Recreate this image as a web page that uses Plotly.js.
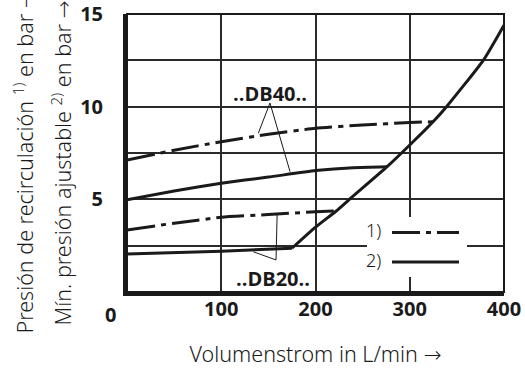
<!DOCTYPE html>
<html>
<head>
<meta charset="utf-8">
<script src="https://cdn.plot.ly/plotly-3.0.1.min.js"></script>
<style>html,body{margin:0;padding:0;background:#fff;}#chart{width:525px;height:368px;}</style>
</head>
<body>
<div id="chart"></div>
<script>
// ---- data ----
const db40DashX = [0, 50, 100, 150, 200, 250, 300, 325];
const db40DashY = [7.12, 7.65, 8.11, 8.51, 8.83, 9.01, 9.14, 9.19];
const db40SolidX = [0, 50, 100, 150, 200, 240, 276];
const db40SolidY = [4.97, 5.45, 5.87, 6.2, 6.55, 6.71, 6.76];
const db20DashX = [0, 50, 100, 150, 200, 222];
const db20DashY = [3.35, 3.71, 4.03, 4.18, 4.33, 4.37];
const db20SolidX = [0, 100, 175];
const db20SolidY = [2.05, 2.2, 2.36];
const limitX = [175, 200, 222, 236, 276, 300, 325, 339, 378, 400];
const limitY = [2.36, 3.5, 4.37, 5.0, 6.76, 7.93, 9.2, 10.0, 12.5, 14.4];

const xTickVals = [100, 200, 300, 400];
const xTickText = ['100', '200', '300', '400'];
const yTickVals = [5, 10, 15];
const yTickText = ['5', '10', '15'];
const yGridStep = 2.5;

const labelDB40 = '..DB40..';
const labelDB20 = '..DB20..';
const ARROW = '<span style="font-family:\'DejaVu Sans\'">→</span>';
const yTitle1 = 'Presión de recirculación <sup>1)</sup> en bar ' + ARROW;
const yTitle2 = 'Mín. presión ajustable <sup>2)</sup> en bar ' + ARROW;
const xTitle = 'Volumenstrom in L/min ' + ARROW;
const originLabel = '0';
const legendLabels = ['1)', '2)'];

// ---- styling ----
const INK = '#1a1a1a';
const GRID = '#2a2a2a';
const DASHDOT = '28px,6px,5px,6px';
const lightFont = {family: '"Noto Sans", "Open Sans", sans-serif', size: 21.5, color: INK, weight: 300};
const boldFont = {family: '"Open Sans", "Noto Sans", sans-serif', size: 20, color: INK, weight: 'bold'};

function tr(x, y, dash) {
  return {x: x, y: y, type: 'scatter', mode: 'lines', hoverinfo: 'skip', showlegend: false,
    line: {color: INK, width: 3, dash: dash, shape: 'spline', smoothing: 0.5}};
}
const traces = [
  tr(db40DashX, db40DashY, DASHDOT),
  tr(db40SolidX, db40SolidY, 'solid'),
  tr(db20DashX, db20DashY, DASHDOT),
  tr(db20SolidX, db20SolidY, 'solid'),
  tr(limitX, limitY, 'solid')
];

const shapes = [
  // legend background
  {type: 'rect', xref: 'paper', yref: 'paper', x0: 0.6366, x1: 0.9019, y0: 0.054, y1: 0.2698,
   fillcolor: '#fff', line: {width: 0}, layer: 'above'},
  // legend samples
  {type: 'line', xref: 'paper', yref: 'paper', x0: 0.7029, x1: 0.8806, y0: 0.214, y1: 0.214,
   line: {color: INK, width: 3, dash: DASHDOT}, layer: 'above'},
  {type: 'line', xref: 'paper', yref: 'paper', x0: 0.7029, x1: 0.8806, y0: 0.1079, y1: 0.1079,
   line: {color: INK, width: 3}, layer: 'above'},
  // thin top/right border
  {type: 'rect', xref: 'paper', yref: 'paper', x0: 0, x1: 1, y0: 0, y1: 1,
   line: {color: INK, width: 2}, layer: 'above'},
  // leader lines DB40
  {type: 'line', xref: 'x', yref: 'y', x0: 151.7, y0: 10.2, x1: 139.3, y1: 8.56, line: {color: INK, width: 1}},
  {type: 'line', xref: 'x', yref: 'y', x0: 151.7, y0: 10.2, x1: 173, y1: 6.49, line: {color: INK, width: 1}},
  // leader lines DB20
  {type: 'line', xref: 'x', yref: 'y', x0: 158.1, y0: 1.73, x1: 159.3, y1: 4.16, line: {color: INK, width: 1}},
  {type: 'line', xref: 'x', yref: 'y', x0: 158.1, y0: 1.73, x1: 134, y1: 2.17, line: {color: INK, width: 1}}
];

const annotations = [
  {text: labelDB40, x: 151.7, y: 10.7, xref: 'x', yref: 'y', showarrow: false, font: boldFont, xanchor: 'center', yanchor: 'middle'},
  {text: labelDB20, x: 155.2, y: 0.75, xref: 'x', yref: 'y', showarrow: false, font: boldFont, xanchor: 'center', yanchor: 'middle'},
  {text: legendLabels[0], x: 0.679, y: 0.223, xref: 'paper', yref: 'paper', showarrow: false, font: Object.assign({}, lightFont, {size: 18}), xanchor: 'right', yanchor: 'middle'},
  {text: legendLabels[1], x: 0.679, y: 0.115, xref: 'paper', yref: 'paper', showarrow: false, font: Object.assign({}, lightFont, {size: 18}), xanchor: 'right', yanchor: 'middle'},
  {text: originLabel, x: -0.045, y: -0.0827, xref: 'paper', yref: 'paper', showarrow: false, font: boldFont, xanchor: 'center', yanchor: 'middle'},
  {text: yTitle1, x: (23 - 127) / 377, y: (292 - 336) / 278, xref: 'paper', yref: 'paper', showarrow: false,
   textangle: -90, font: lightFont, xanchor: 'center', yanchor: 'bottom'},
  {text: yTitle2, x: (61 - 127) / 377, y: (292 - 328) / 278, xref: 'paper', yref: 'paper', showarrow: false,
   textangle: -90, font: lightFont, xanchor: 'center', yanchor: 'bottom'}
];

const layout = {
  width: 525, height: 368,
  margin: {l: 127, r: 21, t: 14, b: 76},
  paper_bgcolor: '#fff', plot_bgcolor: '#fff',
  showlegend: false,
  xaxis: {
    range: [0, 400], tickvals: xTickVals, ticktext: xTickText,
    ticks: '', ticklabelstandoff: -4,
    showgrid: true, gridcolor: GRID, gridwidth: 1.5, zeroline: false,
    showline: true, linecolor: INK, linewidth: 4,
    tickfont: boldFont,
    title: {text: xTitle, font: Object.assign({}, lightFont, {size: 21.5}), standoff: 28},
    fixedrange: true
  },
  yaxis: {
    range: [0, 15], tickvals: yTickVals, ticktext: yTickText,
    ticks: 'outside', ticklen: 16, tickcolor: 'rgba(0,0,0,0)',
    showgrid: true, gridcolor: GRID, gridwidth: 1.5, zeroline: false,
    minor: {dtick: yGridStep, tick0: 0, showgrid: true, gridcolor: GRID, gridwidth: 1.5, ticks: ''},
    showline: true, linecolor: INK, linewidth: 4,
    tickfont: boldFont,
    fixedrange: true
  },
  shapes: shapes,
  annotations: annotations
};

Plotly.newPlot('chart', traces, layout, {displayModeBar: false});
</script>
</body>
</html>
